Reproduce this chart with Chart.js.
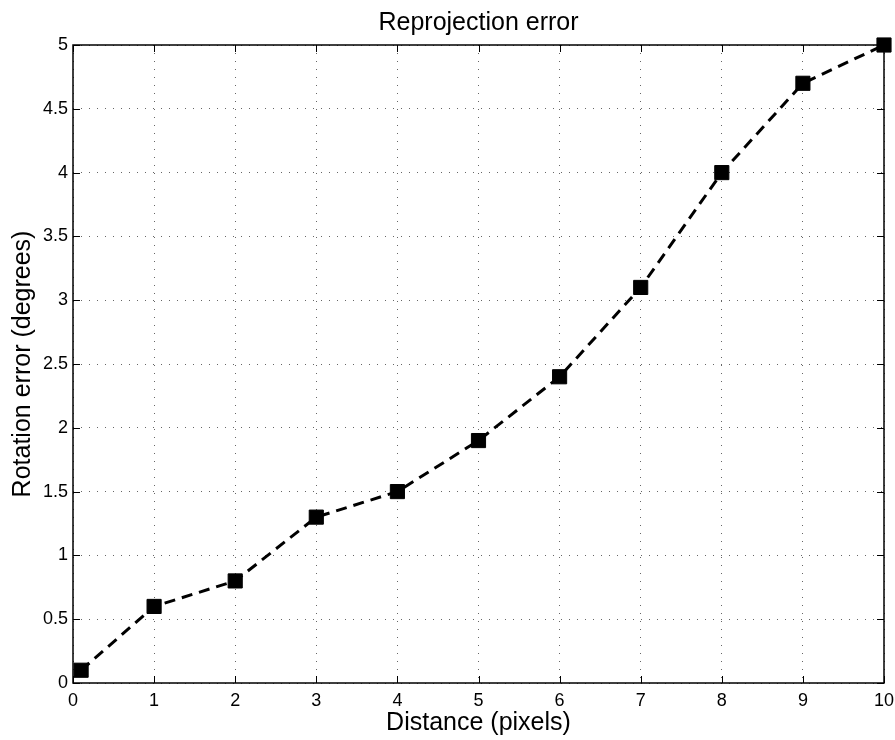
<!DOCTYPE html>
<html>
<head>
<meta charset="utf-8">
<script src="https://cdn.jsdelivr.net/npm/chart.js@4.4.1/dist/chart.umd.min.js"></script>
<style>
  html, body { margin: 0; padding: 0; background: #fff; }
  #box { width: 895px; height: 740px; }
</style>
</head>
<body>
<div id="box"><canvas id="grafico"></canvas></div>
<script>
// dados
const distancias = [0.1, 1, 2, 3, 4, 5, 6, 7, 8, 9, 10];
const erros = [0.1, 0.6, 0.8, 1.3, 1.5, 1.9, 2.4, 3.1, 4.0, 4.7, 5.0];

const pontos = distancias.map((d, i) => ({x: d, y: erros[i]}));

// moldura e ticks para dentro, estilo matlab
const moldura = {
    id: 'moldura',
    afterDraw(chart) {
        const ctx = chart.ctx;
        const a = chart.chartArea;
        const sx = chart.scales.x, sy = chart.scales.y;
        ctx.save();
        ctx.strokeStyle = '#000';
        ctx.lineWidth = 1;
        ctx.beginPath();
        sx.ticks.forEach(t => {
            const px = Math.round(sx.getPixelForValue(t.value)) + 0.5;
            ctx.moveTo(px, a.bottom); ctx.lineTo(px, a.bottom - 7);
            ctx.moveTo(px, a.top); ctx.lineTo(px, a.top + 7);
        });
        sy.ticks.forEach(t => {
            const py = Math.round(sy.getPixelForValue(t.value)) + 0.5;
            ctx.moveTo(a.left, py); ctx.lineTo(a.left + 7, py);
            ctx.moveTo(a.right, py); ctx.lineTo(a.right - 7, py);
        });
        ctx.stroke();
        ctx.lineWidth = 1.5;
        ctx.strokeRect(a.left, a.top, a.right - a.left, a.bottom - a.top);
        ctx.restore();
    }
};

function montarGrafico() {
    const graf = document.getElementById('grafico').getContext('2d');
    Chart.defaults.font.family = '"Liberation Sans", Arial, sans-serif';
    Chart.defaults.color = '#000';

    const meuGrafico = new Chart(graf, {
        type: 'scatter',
        data: {
            datasets: [{
                label: 'Erro',
                data: pontos,
                showLine: true,
                clip: false,
                borderColor: '#000',
                borderWidth: 3,
                borderDash: [11, 7],
                backgroundColor: '#000',
                pointStyle: 'rect',
                pointRadius: 10,
                pointBorderWidth: 1,
                pointBackgroundColor: '#000',
                pointBorderColor: '#000'
            }]
        },
        options: {
            responsive: true,
            maintainAspectRatio: false,
            animation: false,
            layout: {padding: {left: 0, right: 10, top: 0, bottom: 0}},
            plugins: {
                legend: {display: false},
                tooltip: {enabled: false},
                title: {
                    display: true,
                    fullSize: false, // centraliza sobre a area do grafico
                    text: 'Reprojection error',
                    font: {size: 25, weight: 'normal'},
                    padding: {top: 8, bottom: 7}
                }
            },
            scales: {
                x: {
                    type: 'linear',
                    min: 0,
                    max: 10,
                    ticks: {stepSize: 1, font: {size: 18}, padding: 7, maxRotation: 0},
                    grid: {color: '#666', lineWidth: 1, drawTicks: false},
                    border: {display: false, dash: [1, 7]},
                    title: {display: true, text: 'Distance (pixels)', font: {size: 25}, padding: {top: 0, bottom: 2}},
                    afterFit: s => { s.height = 57; s.paddingRight = 0; s.paddingLeft = 0; }
                },
                y: {
                    type: 'linear',
                    min: 0,
                    max: 5,
                    ticks: {stepSize: 0.5, font: {size: 18}, padding: 5, callback: v => String(v)},
                    grid: {color: '#666', lineWidth: 1, drawTicks: false},
                    border: {display: false, dash: [1, 7]},
                    title: {display: true, text: 'Rotation error (degrees)', font: {size: 25}, padding: {top: 8, bottom: 0}},
                    afterFit: s => { s.width = 73; s.paddingTop = 0; s.paddingBottom = 0; }
                }
            }
        },
        plugins: [moldura]
    });
}

montarGrafico();
</script>
</body>
</html>
